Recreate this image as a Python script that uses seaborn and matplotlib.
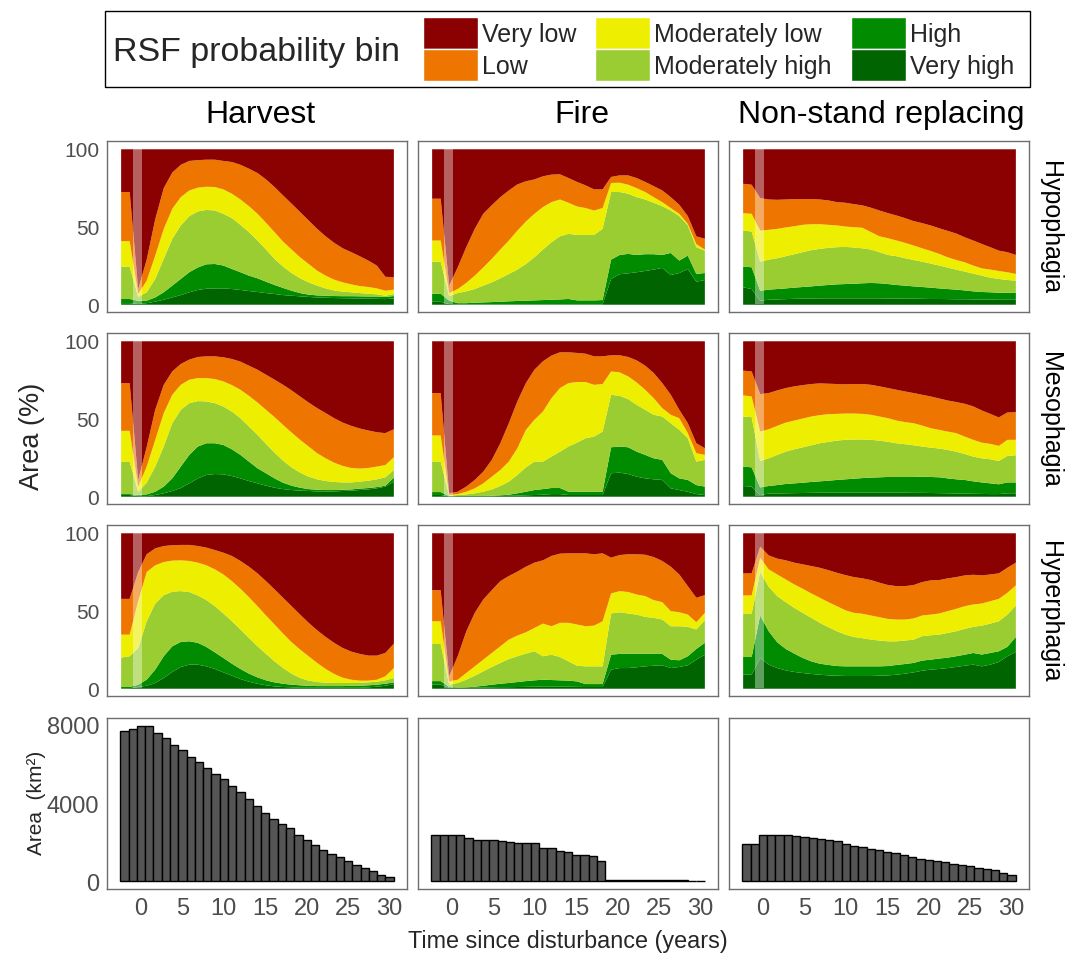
import numpy as np
import pandas as pd
import matplotlib
matplotlib.use("Agg")
import matplotlib.pyplot as plt
from matplotlib.patches import Patch, Rectangle
import seaborn as sns

sns.set_theme(style="white")
plt.rcParams["font.family"] = ["Liberation Sans", "DejaVu Sans"]

# ---------------------------------------------------------------- data
YEARS = [-2, -1, 0, 1, 2, 3, 4, 5, 6, 7, 8, 9, 10, 11, 12, 13, 14, 15, 16,
         17, 18, 19, 20, 21, 22, 23, 24, 25, 26, 27, 28, 29, 30]

BINS = ["Very low", "Low", "Moderately low", "Moderately high", "High", "Very high"]
BIN_COLORS = ["#8B0000", "#EE7600", "#EEEE00", "#9ACD32", "#008B00", "#006400"]

DISTURBANCES = ["Harvest", "Fire", "Non-stand replacing"]
SEASONS = ["Hypophagia", "Mesophagia", "Hyperphagia"]

# Cumulative upper edge (% of area) of the Very high, High, Moderately high,
# Moderately low and Low bins; Very low fills the rest up to 100 %.
harvest_hypophagia = [
    [1.0, 1.0, 0.4, 1.0, 2.0, 3.2, 4.7, 6.2, 8.0, 9.5, 10.3, 10.5, 10.5, 10.1, 9.5, 8.8, 8.2,
     7.5, 6.9, 6.2, 5.8, 5.4, 5.0, 4.7, 4.5, 4.3, 4.2, 4.1, 4.0, 3.9, 3.8, 3.6, 4.0],
    [3.7, 3.7, 2.5, 2.6, 4.7, 8.0, 12.3, 16.6, 20.9, 24.0, 26.0, 26.2, 25.2, 23.0, 20.9, 18.7, 17.0,
     14.8, 12.7, 10.8, 9.0, 7.5, 6.5, 6.0, 5.8, 5.6, 5.5, 5.5, 5.4, 5.3, 5.3, 5.0, 5.6],
    [24.5, 24.5, 5.0, 8.0, 16.6, 29.5, 42.4, 51.0, 57.0, 60.0, 61.0, 60.6, 58.5, 55.7, 51.4, 46.7, 41.3,
     35.5, 29.5, 24.5, 20.4, 17.0, 14.4, 12.3, 10.5, 9.2, 8.4, 8.0, 7.5, 7.1, 6.7, 5.8, 6.9],
    [40.9, 40.9, 7.0, 15.5, 31.6, 48.8, 61.7, 69.2, 73.5, 75.3, 75.9, 75.7, 74.2, 71.4, 67.7, 63.4, 58.5,
     52.7, 46.7, 40.6, 35.5, 30.5, 26.2, 21.9, 18.7, 16.1, 14.4, 13.1, 12.0, 11.4, 10.5, 9.0, 9.7],
    [72.5, 72.5, 10.0, 29.0, 55.0, 75.0, 85.0, 90.0, 92.5, 93.0, 93.3, 93.3, 92.5, 91.8, 90.0, 87.5, 84.7,
     80.6, 75.7, 70.3, 65.0, 59.6, 54.2, 48.8, 44.0, 39.8, 36.3, 33.8, 31.2, 28.4, 25.2, 18.0, 17.6],
]
harvest_mesophagia = [
    [1.1, 1.1, 0.4, 0.4, 1.1, 2.2, 3.7, 5.6, 8.6, 11.8, 14.0, 14.6, 14.4, 13.3, 11.8, 10.1, 8.6,
     7.1, 5.8, 4.9, 4.3, 3.9, 3.7, 3.4, 3.4, 3.4, 3.7, 3.9, 4.3, 4.7, 5.4, 6.5, 9.7],
    [1.7, 1.7, 1.1, 1.5, 3.2, 6.5, 11.8, 19.4, 26.9, 32.3, 34.4, 34.4, 33.3, 30.5, 26.9, 22.6, 18.3,
     15.1, 11.8, 9.0, 7.1, 5.8, 4.9, 4.5, 4.3, 4.3, 4.5, 4.7, 5.2, 5.6, 6.2, 7.1, 12.3],
    [22.4, 22.4, 3.2, 9.0, 19.4, 32.3, 47.3, 55.9, 60.2, 61.5, 61.3, 60.2, 58.0, 54.8, 50.5, 45.2, 39.8,
     34.0, 28.4, 23.2, 18.9, 15.5, 12.9, 11.2, 10.1, 9.5, 9.2, 9.2, 9.7, 10.3, 11.2, 12.5, 17.2],
    [42.4, 42.4, 6.5, 19.4, 36.6, 53.8, 65.6, 72.0, 75.3, 76.3, 76.3, 75.7, 74.2, 71.8, 68.8, 64.9, 60.6,
     55.9, 51.2, 46.2, 41.3, 36.6, 32.3, 28.0, 24.7, 21.9, 19.8, 18.5, 18.1, 18.5, 19.4, 20.4, 25.4],
    [73.1, 73.1, 10.8, 32.0, 56.0, 72.0, 80.6, 85.4, 88.2, 89.9, 90.3, 90.3, 89.7, 88.6, 86.9, 84.3, 81.7,
     78.5, 75.3, 72.0, 68.4, 64.5, 60.6, 57.0, 53.8, 50.5, 47.7, 45.6, 43.9, 42.6, 41.5, 40.9, 43.4],
]
harvest_hyperphagia = [
    [0.4, 0.4, 1.1, 1.9, 3.7, 6.9, 10.8, 14.0, 15.5, 15.5, 14.4, 12.7, 10.5, 8.4, 6.2, 4.5, 3.2,
     2.2, 1.5, 1.1, 0.9, 0.6, 0.6, 0.6, 0.6, 0.6, 0.6, 0.6, 0.6, 0.9, 1.3, 1.9, 3.0],
    [1.1, 1.1, 2.6, 5.8, 12.3, 20.9, 27.3, 30.1, 30.5, 29.5, 26.9, 23.4, 19.8, 16.1, 12.7, 9.7, 7.3,
     5.4, 4.1, 3.2, 2.6, 2.2, 1.9, 1.7, 1.7, 1.7, 1.7, 1.9, 1.9, 2.2, 2.6, 3.2, 4.1],
    [20.0, 20.9, 26.2, 43.4, 54.8, 60.2, 62.4, 62.8, 62.2, 60.0, 57.0, 53.1, 48.4, 43.4, 38.1, 32.7, 27.3,
     22.4, 17.6, 13.3, 9.7, 6.9, 5.2, 4.3, 3.9, 3.7, 3.7, 3.7, 3.7, 4.1, 4.5, 5.4, 6.9],
    [34.8, 34.8, 56.3, 75.1, 79.4, 81.5, 82.4, 82.6, 82.2, 81.1, 79.4, 76.8, 73.5, 69.2, 64.3, 58.9, 53.1,
     47.1, 41.3, 35.5, 29.9, 25.2, 20.9, 16.6, 12.7, 9.5, 7.1, 5.8, 5.2, 5.2, 5.8, 8.0, 13.3],
    [57.8, 57.8, 75.0, 86.5, 90.3, 91.8, 92.3, 92.5, 92.5, 91.8, 90.8, 89.2, 87.5, 85.4, 82.2, 78.5, 74.2,
     69.2, 63.9, 58.5, 53.1, 47.7, 42.4, 37.6, 33.3, 29.5, 26.2, 23.9, 22.4, 21.3, 21.3, 23.0, 29.0],
]
fire_hypophagia = [
    [1.9, 1.9, 0.4, 0.3, 0.3, 0.3, 0.3, 0.3, 0.3, 0.3, 0.3, 0.3, 0.3, 0.3, 0.3, 0.3, 0.3,
     0.3, 0.3, 0.3, 0.3, 16.6, 19.6, 20.2, 20.9, 21.7, 22.6, 23.7, 19.1, 20.4, 23.0, 14.8, 15.9],
    [7.1, 7.1, 2.6, 1.0, 1.0, 1.3, 1.5, 1.7, 1.9, 2.2, 2.4, 2.6, 2.8, 3.0, 3.2, 3.4, 3.7,
     2.8, 2.8, 2.8, 3.0, 29.0, 32.0, 32.7, 32.0, 32.5, 32.5, 32.0, 33.3, 28.4, 31.6, 19.8, 20.4],
    [27.7, 27.7, 5.5, 7.5, 8.6, 10.1, 12.3, 14.4, 17.0, 19.8, 22.6, 26.2, 30.5, 35.5, 40.2, 44.0, 45.6,
     44.9, 44.9, 44.9, 48.8, 72.5, 72.5, 71.4, 69.2, 67.7, 65.6, 63.4, 60.6, 57.0, 51.0, 37.0, 34.8],
    [41.3, 41.3, 7.5, 10.1, 14.0, 18.7, 24.0, 29.5, 35.5, 41.3, 47.7, 53.5, 58.5, 62.8, 66.0, 67.7, 65.6,
     63.2, 62.2, 60.6, 62.2, 78.3, 78.5, 77.2, 75.0, 72.5, 69.2, 66.0, 62.2, 58.5, 52.0, 39.0, 35.5],
    [68.2, 68.2, 12.3, 24.0, 37.0, 48.8, 58.5, 64.0, 69.2, 73.5, 77.4, 79.4, 80.6, 82.6, 83.7, 83.9, 81.5,
     79.0, 76.8, 74.2, 74.2, 82.2, 83.2, 83.2, 81.5, 79.0, 76.3, 73.5, 69.2, 64.3, 57.0, 44.0, 42.4],
]
fire_mesophagia = [
    [1.1, 1.1, 0.2, 0.4, 0.4, 0.4, 0.4, 0.4, 0.5, 0.6, 0.7, 0.9, 1.1, 1.3, 1.7, 1.7, 1.1,
     1.1, 1.1, 1.1, 1.1, 15.1, 15.5, 14.6, 12.9, 11.8, 11.2, 10.8, 5.4, 4.3, 3.2, 1.7, 1.1],
    [3.0, 3.0, 0.4, 0.5, 0.5, 0.5, 0.5, 0.6, 0.9, 1.3, 2.2, 3.2, 4.3, 4.9, 5.6, 5.6, 3.2,
     3.2, 3.2, 3.2, 3.2, 31.8, 32.3, 31.8, 29.0, 26.9, 24.7, 23.7, 15.1, 11.8, 10.8, 7.5, 6.5],
    [22.6, 22.6, 0.6, 1.1, 1.5, 2.2, 3.2, 4.7, 6.9, 9.7, 14.0, 18.9, 22.6, 22.6, 25.8, 29.0, 32.3,
     34.8, 37.6, 38.7, 41.9, 65.6, 64.9, 62.8, 59.1, 55.9, 52.7, 51.6, 47.3, 43.0, 37.6, 22.6, 23.7],
    [39.4, 39.4, 1.1, 1.7, 3.2, 5.4, 8.6, 12.9, 17.2, 22.6, 31.2, 43.0, 49.5, 54.8, 63.4, 69.9, 73.1,
     73.8, 73.8, 72.0, 72.5, 80.6, 80.0, 77.4, 73.5, 68.8, 63.4, 57.0, 52.7, 50.5, 40.9, 28.0, 26.9],
    [66.7, 66.7, 2.2, 3.2, 6.5, 10.8, 16.1, 23.7, 34.4, 47.3, 61.3, 73.1, 81.7, 87.1, 90.8, 92.9, 92.9,
     92.5, 92.0, 90.3, 90.3, 91.0, 91.0, 89.9, 87.7, 84.3, 79.6, 73.1, 65.6, 55.9, 47.3, 34.4, 31.2],
]
fire_hyperphagia = [
    [2.6, 2.6, 0.6, 0.6, 0.7, 0.8, 0.8, 0.9, 1.0, 1.0, 1.1, 1.2, 1.3, 1.3, 1.3, 1.3, 1.3,
     1.2, 1.1, 1.1, 1.1, 12.3, 13.3, 13.3, 13.8, 14.4, 14.8, 15.1, 13.3, 14.0, 15.1, 18.7, 21.9],
    [4.9, 4.9, 1.1, 0.8, 0.9, 1.3, 1.9, 2.6, 3.2, 3.7, 4.3, 4.9, 5.4, 5.8, 5.6, 5.4, 5.2,
     4.7, 3.0, 3.0, 3.0, 21.9, 22.4, 22.4, 22.4, 22.4, 22.4, 22.4, 18.7, 18.3, 20.9, 25.6, 29.5],
    [28.8, 28.8, 2.6, 3.7, 5.8, 8.4, 11.2, 14.0, 16.6, 19.1, 20.9, 22.6, 24.1, 20.9, 21.9, 20.4, 17.6,
     14.8, 14.4, 14.4, 14.4, 48.4, 49.2, 48.4, 47.7, 46.2, 45.6, 44.5, 40.2, 40.2, 39.8, 38.1, 44.1],
    [43.4, 43.4, 4.7, 5.8, 10.1, 14.4, 18.7, 23.0, 27.3, 31.6, 34.2, 36.3, 39.1, 41.9, 40.2, 42.4, 42.4,
     41.3, 40.2, 40.6, 43.4, 61.3, 62.8, 62.2, 60.6, 59.6, 57.0, 55.7, 49.9, 49.2, 47.7, 42.8, 48.8],
    [63.4, 63.4, 8.0, 20.9, 36.8, 48.8, 57.4, 63.4, 69.2, 72.5, 75.3, 78.5, 81.1, 82.6, 85.4, 86.9, 87.1,
     87.1, 87.1, 86.5, 87.1, 84.3, 86.0, 86.5, 86.5, 86.2, 84.7, 82.2, 78.5, 73.5, 66.0, 58.5, 60.2],
]
nsr_hypophagia = [
    [11.2, 10.1, 2.6, 3.2, 3.4, 3.6, 3.8, 3.9, 4.0, 4.1, 4.1, 4.1, 4.1, 4.1, 4.1, 4.1, 4.1,
     4.0, 4.0, 3.9, 3.9, 3.8, 3.7, 3.7, 3.6, 3.5, 3.5, 3.4, 3.3, 3.3, 3.2, 3.2, 3.2],
    [24.5, 24.1, 9.0, 9.7, 10.1, 10.5, 11.0, 11.4, 11.8, 12.3, 12.7, 13.1, 13.3, 13.5, 13.8, 14.0, 13.8,
     13.3, 12.7, 12.3, 11.8, 11.4, 11.0, 10.5, 10.1, 9.7, 9.2, 8.6, 8.2, 8.0, 7.7, 7.7, 7.7],
    [47.7, 47.1, 27.7, 29.0, 29.9, 31.2, 32.5, 33.8, 35.1, 35.9, 36.6, 37.0, 37.2, 36.8, 36.3, 35.5, 33.8,
     32.0, 31.2, 29.9, 28.8, 27.7, 26.5, 25.2, 23.9, 22.6, 21.3, 20.0, 18.7, 17.4, 16.6, 15.9, 15.5],
    [58.9, 58.5, 47.7, 48.2, 48.8, 49.7, 50.5, 51.4, 51.8, 51.8, 51.4, 51.0, 50.3, 49.9, 49.5, 46.7, 44.0,
     42.8, 41.3, 39.8, 38.1, 36.3, 34.6, 32.7, 30.5, 28.8, 27.3, 25.2, 23.4, 22.6, 21.7, 20.9, 19.8],
    [77.8, 77.2, 68.6, 67.7, 67.5, 67.7, 68.0, 68.0, 68.0, 67.7, 67.1, 66.0, 65.6, 64.7, 63.9, 62.4, 60.6,
     58.9, 57.4, 55.7, 53.8, 52.5, 51.0, 49.2, 47.5, 45.8, 43.4, 41.3, 39.1, 37.0, 34.8, 33.8, 32.0],
]
nsr_mesophagia = [
    [6.9, 6.5, 1.1, 2.0, 2.1, 2.2, 2.3, 2.4, 2.5, 2.6, 2.6, 2.6, 2.6, 2.6, 2.6, 2.6, 2.6,
     2.6, 2.6, 2.6, 2.5, 2.5, 2.4, 2.3, 2.2, 2.1, 2.0, 1.9, 1.8, 1.7, 1.7, 2.2, 2.2],
    [19.4, 18.9, 6.0, 6.9, 7.5, 8.2, 8.6, 9.0, 9.5, 9.9, 10.3, 10.8, 11.2, 11.6, 12.0, 12.3, 12.5,
     12.7, 12.7, 12.7, 12.7, 12.9, 12.7, 12.5, 11.8, 11.2, 10.8, 9.9, 9.2, 8.6, 8.0, 9.2, 9.2],
    [51.6, 51.2, 23.0, 24.7, 26.9, 29.0, 30.5, 31.8, 33.1, 34.4, 35.3, 36.1, 36.6, 36.8, 36.8, 36.6, 36.1,
     35.3, 34.4, 33.8, 33.1, 32.3, 31.6, 31.0, 30.1, 29.0, 27.5, 25.8, 24.7, 24.1, 23.0, 26.2, 26.7],
    [65.2, 64.5, 41.9, 43.4, 45.6, 47.7, 49.0, 50.3, 51.6, 52.5, 53.1, 53.3, 53.5, 53.5, 53.3, 52.7, 51.6,
     50.5, 49.0, 48.0, 47.3, 45.8, 44.1, 43.0, 41.9, 40.9, 38.7, 36.6, 34.8, 34.0, 32.7, 36.6, 36.6],
    [81.1, 80.6, 66.0, 66.7, 68.4, 69.9, 71.0, 71.8, 72.5, 72.9, 72.7, 72.5, 72.3, 72.5, 72.5, 72.0, 71.0,
     69.9, 68.8, 67.7, 66.7, 65.6, 64.5, 63.2, 61.9, 60.9, 59.8, 58.1, 55.5, 53.3, 51.0, 54.2, 54.4],
]
nsr_hyperphagia = [
    [9.0, 9.0, 19.8, 15.5, 13.3, 11.8, 10.8, 10.1, 9.5, 9.0, 8.6, 8.4, 8.2, 8.2, 8.2, 8.2, 8.4,
     8.6, 9.0, 9.7, 10.5, 11.6, 12.3, 12.7, 13.3, 14.0, 14.8, 15.5, 14.4, 15.5, 17.2, 20.9, 23.7],
    [20.4, 20.4, 47.1, 37.0, 29.9, 25.6, 22.6, 19.8, 17.6, 16.1, 15.3, 14.6, 14.4, 14.4, 14.4, 14.4, 14.4,
     14.6, 15.3, 15.9, 16.6, 18.1, 18.7, 19.4, 20.0, 20.9, 21.9, 23.0, 22.0, 23.0, 24.1, 26.9, 33.3],
    [48.4, 48.4, 75.1, 65.6, 59.6, 55.7, 52.0, 48.8, 45.6, 42.4, 39.6, 37.0, 34.8, 33.3, 32.5, 31.6, 31.0,
     30.5, 30.5, 31.0, 31.6, 33.8, 34.4, 34.8, 35.9, 37.0, 38.5, 39.8, 40.6, 41.9, 43.4, 47.7, 53.5],
    [60.0, 60.0, 84.3, 76.8, 73.5, 70.3, 67.1, 64.3, 61.3, 58.5, 55.7, 53.1, 50.5, 48.8, 48.2, 47.1, 46.0,
     44.9, 44.5, 44.5, 45.2, 47.1, 47.7, 48.4, 49.9, 51.4, 53.1, 54.2, 54.8, 56.3, 57.8, 61.7, 66.5],
    [74.2, 74.2, 91.4, 85.8, 83.7, 82.6, 81.1, 80.0, 78.9, 77.8, 76.3, 74.6, 73.1, 71.8, 71.0, 69.9, 68.2,
     66.7, 66.0, 66.0, 66.7, 68.6, 69.7, 69.9, 71.0, 71.8, 72.9, 73.3, 72.9, 73.5, 74.2, 77.8, 81.1],
]

# Area disturbed (km2) per year since disturbance
harvest_area = [7700, 7780, 7950, 7950, 7600, 7310, 6960, 6690, 6370, 6080, 5780, 5490, 5220,
                4870, 4550, 4210, 3840, 3500, 3200, 2910, 2710, 2380, 2090, 1850, 1600, 1400,
                1230, 1030, 810, 670, 540, 340, 220]
fire_area = [2360, 2340, 2360, 2360, 2220, 2120, 2120, 2120, 2070, 2020, 1950, 1950, 1950,
             1700, 1680, 1530, 1470, 1360, 1330, 1300, 1060, 84, 84, 67, 70, 65, 60, 55,
             50, 45, 40, 35, 30]
nsr_area = [1890, 1920, 2380, 2380, 2360, 2360, 2290, 2240, 2190, 2140, 2090, 2060, 1920,
            1820, 1740, 1670, 1580, 1470, 1420, 1360, 1260, 1130, 1080, 1010, 960, 890,
            810, 780, 660, 610, 560, 400, 340]

PANELS = {
    ("Harvest", "Hypophagia"): harvest_hypophagia,
    ("Harvest", "Mesophagia"): harvest_mesophagia,
    ("Harvest", "Hyperphagia"): harvest_hyperphagia,
    ("Fire", "Hypophagia"): fire_hypophagia,
    ("Fire", "Mesophagia"): fire_mesophagia,
    ("Fire", "Hyperphagia"): fire_hyperphagia,
    ("Non-stand replacing", "Hypophagia"): nsr_hypophagia,
    ("Non-stand replacing", "Mesophagia"): nsr_mesophagia,
    ("Non-stand replacing", "Hyperphagia"): nsr_hyperphagia,
}
AREAS = {"Harvest": harvest_area, "Fire": fire_area, "Non-stand replacing": nsr_area}


def bin_shares(bounds):
    """Long table of the share of each probability bin per year."""
    n = len(YEARS)
    edges = np.vstack([np.zeros(n), np.array(bounds, dtype=float), np.full(n, 100.0)])
    edges = np.maximum.accumulate(edges, axis=0)
    shares = np.diff(edges, axis=0)          # Very high ... Very low
    names = BINS[::-1]
    return pd.DataFrame({
        "year": np.tile(YEARS, len(names)),
        "bin": np.repeat(names, n),
        "share": shares.ravel(),
    })


# ---------------------------------------------------------------- layout
W, H = 1075, 954
fig = plt.figure(figsize=(W / 100, H / 100), dpi=100)
fig.patch.set_facecolor("white")

col_left = [107, 418, 729]
row_top = [142, 334, 526, 719]
pw, ph = 300, 171

SPINE = "#6E6E6E"
TICK_TXT = "#4D4D4D"


def make_ax(c, r, labelsize=15):
    ax = fig.add_axes([col_left[c] / W, 1 - (row_top[r] + ph) / H, pw / W, ph / H])
    ax.set_facecolor("white")
    for s in ax.spines.values():
        s.set_color(SPINE)
        s.set_linewidth(1.0)
    ax.tick_params(direction="out", length=3.5, width=0.8, color="#333333",
                   labelcolor=TICK_TXT, labelsize=labelsize, pad=2)
    return ax


for c, dist in enumerate(DISTURBANCES):
    for r, season in enumerate(SEASONS):
        ax = make_ax(c, r)
        df = bin_shares(PANELS[(dist, season)])
        sns.histplot(data=df, x="year", weights="share", hue="bin", hue_order=BINS,
                     palette=BIN_COLORS, multiple="stack", element="poly", discrete=True,
                     alpha=1, linewidth=0, legend=False, ax=ax)
        # time-of-disturbance marker
        ax.fill_between([-0.5, 0.5], 0, 100, color="white", alpha=0.38, lw=0, zorder=5)
        ax.set_xlim(-3.6, 31.6)
        ax.set_ylim(-5, 105)
        ax.set_xlabel("")
        ax.set_ylabel("")
        ax.set_xticks([])
        if c == 0:
            ax.set_yticks([0, 25, 50, 75, 100])
            ax.set_yticklabels(["0", "", "50", "", "100"])
        else:
            ax.set_yticks([])

    # disturbed area bars
    ax = make_ax(c, 3, labelsize=17)
    sns.histplot(x=YEARS, weights=AREAS[dist], discrete=True, shrink=1,
                 color="#555555", edgecolor="black", linewidth=1.0, alpha=1, ax=ax)
    ax.set_xlim(-4.1, 32.1)
    ax.set_ylim(-398, 8350)
    ax.set_xlabel("")
    ax.set_ylabel("")
    ax.set_xticks([0, 5, 10, 15, 20, 25, 30])
    ax.set_xticklabels(["0", "5", "10", "15", "20", "25", "30"])
    if c == 0:
        ax.set_yticks([0, 2000, 4000, 6000, 8000])
        ax.set_yticklabels(["0", "", "4000", "", "8000"])
    else:
        ax.set_yticks([])

# column and row strip labels
title_x = [260, 582, 881]
for c, dist in enumerate(DISTURBANCES):
    fig.text(title_x[c] / W, 1 - 115 / H, dist, ha="center", va="center",
             fontsize=23, color="black")
for r, season in enumerate(SEASONS):
    fig.text(1050 / W, 1 - (row_top[r] + ph / 2) / H, season, ha="center", va="center",
             rotation=270, fontsize=18, color="black")

# axis titles
fig.text(32 / W, 1 - 436 / H, "Area (%)", rotation=90, ha="center", va="center", fontsize=19.5)
fig.text(36 / W, 1 - 803 / H, "Area  (km²)", rotation=90, ha="center", va="center", fontsize=15)
fig.text(568 / W, 1 - 942 / H, "Time since disturbance (years)", ha="center", va="center",
         fontsize=16.8)

# legend
fig.add_artist(Rectangle((105 / W, 1 - 88 / H), 925 / W, 76 / H, transform=fig.transFigure,
                         fill=False, edgecolor="black", linewidth=1.0))
fig.text(113 / W, 1 - 52 / H, "RSF probability bin", ha="left", va="center", fontsize=24.5)
handles = [Patch(facecolor=col, edgecolor="white", linewidth=1.0) for col in BIN_COLORS]
fig.legend(handles, BINS, ncol=3, loc="upper left", bbox_to_anchor=(423 / W, 1 - 18 / H),
           frameon=False, fontsize=18, handlelength=2.2, handleheight=1.59,
           handletextpad=0.16, columnspacing=0.76, labelspacing=0.0, borderpad=0,
           borderaxespad=0)

fig.savefig("out.png", dpi=100, facecolor="white")
